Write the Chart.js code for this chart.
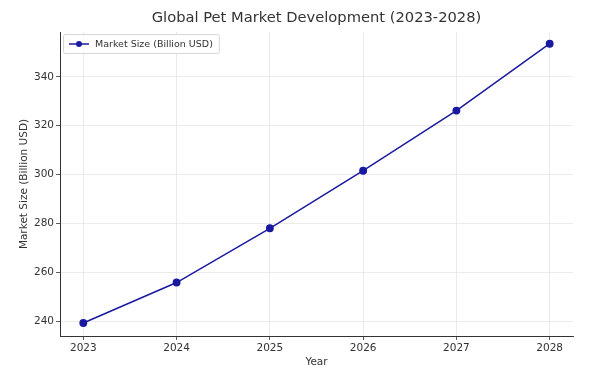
<!DOCTYPE html>
<html>
<head>
<meta charset="utf-8">
<script src="https://cdn.jsdelivr.net/npm/chart.js@4"></script>
<style>
  body { margin: 0; background: #fff; }
  #wrap { width: 600px; height: 369px; }
</style>
</head>
<body>
<div id="wrap"><canvas id="marketChart"></canvas></div>
<script>
// data
var years = [2023, 2024, 2025, 2026, 2027, 2028];
var marketSize = [239.2, 255.8, 278.0, 301.6, 326.2, 353.6];
var yTicks = [240, 260, 280, 300, 320, 340];
var seriesLabel = "Market Size (Billion USD)";
var chartTitle = "Global Pet Market Development (2023-2028)";

var lineColor = "#1a1aa0";

// title centred over the plot area (matplotlib style)
var plotTitle = {
    id: "plotTitle",
    afterDraw: function (chart) {
        var ctx = chart.ctx;
        var area = chart.chartArea;
        ctx.save();
        ctx.font = "14.7px 'DejaVu Sans'";
        ctx.fillStyle = "#333";
        ctx.textAlign = "center";
        ctx.textBaseline = "middle";
        ctx.fillText(chartTitle, (area.left + area.right) / 2, 18);
        ctx.restore();
    }
};

// legend box drawn inside the plot, top-left
var insideLegend = {
    id: "insideLegend",
    afterDraw: function (chart) {
        var ctx = chart.ctx;
        var area = chart.chartArea;
        var x = area.left + 3, y = area.top + 2;
        ctx.save();
        ctx.font = "9.5px 'DejaVu Sans'";
        var w = ctx.measureText(seriesLabel).width + 38;
        ctx.fillStyle = "rgba(255,255,255,0.9)";
        ctx.strokeStyle = "#d6d6d6";
        ctx.lineWidth = 1;
        ctx.beginPath();
        ctx.roundRect(x + 0.5, y + 0.5, w, 19, 2);
        ctx.fill();
        ctx.stroke();
        ctx.strokeStyle = lineColor;
        ctx.lineWidth = 1.5;
        ctx.beginPath();
        ctx.moveTo(x + 6, y + 10);
        ctx.lineTo(x + 26, y + 10);
        ctx.stroke();
        ctx.fillStyle = lineColor;
        ctx.beginPath();
        ctx.arc(x + 16, y + 10, 3, 0, Math.PI * 2);
        ctx.fill();
        ctx.fillStyle = "#333";
        ctx.textBaseline = "middle";
        ctx.fillText(seriesLabel, x + 32, y + 10.5);
        ctx.restore();
    }
};

var marketChart = new Chart(document.getElementById("marketChart").getContext("2d"), {
    type: "line",
    data: {
        datasets: [
            {
                label: seriesLabel,
                data: years.map(function (yr, i) { return { x: yr, y: marketSize[i] }; }),
                borderColor: lineColor,
                backgroundColor: lineColor,
                borderWidth: 1.5,
                pointRadius: 3.2,
                pointHoverRadius: 3.2,
                tension: 0,
            },
        ],
    },
    options: {
        responsive: true,
        maintainAspectRatio: false,
        animation: false,
        layout: { padding: { left: 0, right: 27, top: 32, bottom: 0 } },
        plugins: {
            legend: { display: false },
            tooltip: { enabled: false },
            title: { display: false },
        },
        scales: {
            x: {
                type: "linear",
                min: 2022.75,
                max: 2028.25,
                afterBuildTicks: function (scale) {
                    scale.ticks = years.map(function (v) { return { value: v }; });
                },
                afterFit: function (scale) { scale.height = 33; },
                ticks: {
                    color: "#333",
                    font: { family: "'DejaVu Sans'", size: 10.5 },
                    padding: 2,
                    callback: function (v) { return String(v); },
                },
                grid: {
                    color: "#e6e6e6",
                    lineWidth: 0.8,
                    drawTicks: true,
                    tickLength: 4,
                    tickColor: "#333",
                },
                border: { display: true, color: "#333", width: 1 },
                title: {
                    display: true,
                    text: "Year",
                    color: "#333",
                    font: { family: "'DejaVu Sans'", size: 10.5 },
                    padding: { top: 4, bottom: 0 },
                },
            },
            y: {
                min: 233.9,
                max: 358.4,
                afterBuildTicks: function (scale) {
                    scale.ticks = yTicks.map(function (v) { return { value: v }; });
                },
                afterFit: function (scale) { scale.width = 60; },
                ticks: {
                    color: "#333",
                    font: { family: "'DejaVu Sans'", size: 10.5 },
                    padding: 2,
                },
                grid: {
                    color: "#e6e6e6",
                    lineWidth: 0.8,
                    drawTicks: true,
                    tickLength: 4,
                    tickColor: "#333",
                },
                border: { display: true, color: "#333", width: 1 },
                title: {
                    display: true,
                    text: "Market Size (Billion USD)",
                    color: "#333",
                    font: { family: "'DejaVu Sans'", size: 10.5 },
                    padding: { top: 18, bottom: 0 },
                },
            },
        },
    },
    plugins: [plotTitle, insideLegend],
});
</script>
</body>
</html>
